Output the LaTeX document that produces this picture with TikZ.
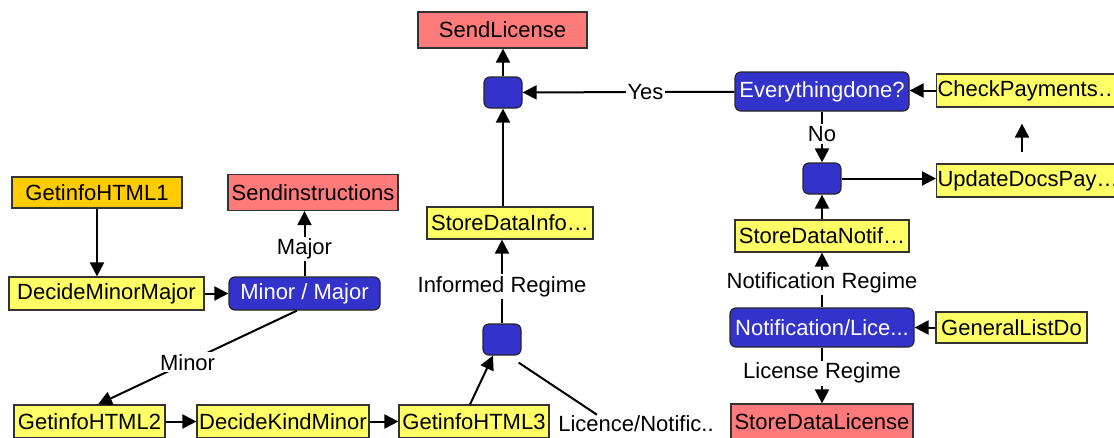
\documentclass[tikz,border=0pt]{standalone}
\usepackage{fontspec}
\setmainfont{Liberation Sans}
\usetikzlibrary{arrows.meta}

\definecolor{taskyellow}{HTML}{FFFF66}
\definecolor{startorange}{HTML}{FFCC00}
\definecolor{endred}{HTML}{FF7B7B}
\definecolor{gateblue}{HTML}{3333CC}
\definecolor{boxline}{HTML}{333333}

\begin{document}
\begin{tikzpicture}[x=1pt,y=-1pt,
  every node/.style={font=\fontsize{22}{26}\selectfont},
  task/.style={draw=boxline, line width=1.2pt, fill=taskyellow, inner sep=1pt, minimum height=33pt},
  start/.style={task, fill=startorange, minimum height=31pt},
  final/.style={task, fill=endred, minimum height=36pt},
  gate/.style={draw=black!85, line width=1.2pt, fill=gateblue, text=white, rounded corners=6pt, inner sep=1pt, minimum height=33pt},
  mergebox/.style={gate, minimum width=38pt, minimum height=31pt},
  lbl/.style={fill=white, inner sep=2pt},
  flow/.style={line width=2pt, -{Triangle[length=14pt,width=14pt]}}]

  \useasboundingbox (0,0) rectangle (1114,437);

  % Left part: minor or major
  \node[start, minimum width=170pt] (html1) at (97,192.5) {GetinfoHTML1};
  \node[final, minimum width=170pt] (sendinstr) at (313,192.5) {Sendinstructions};
  \node[task, minimum width=195pt] (decmm) at (106.5,293.5) {DecideMinorMajor};
  \node[gate, minimum width=151pt] (minmaj) at (304.5,293.5) {Minor / Major};

  % Bottom row
  \node[task, minimum width=151pt] (html2) at (89.5,421.5) {GetinfoHTML2};
  \node[task, minimum width=172pt] (deckind) at (283,421.5) {DecideKindMinor};
  \node[task, minimum width=150pt] (html3) at (474,421.5) {GetinfoHTML3};
  \node[inner sep=1pt] (licnote) at (636,424) {Licence/Notific..};
  \node[final, minimum width=182pt] (storelic) at (822,422) {StoreDataLicense};

  % Middle column
  \node[final, minimum width=169pt] (sendlic) at (502.5,30) {SendLicense};
  \node[mergebox] (merge1) at (503,92.5) {};
  \node[task, minimum width=166pt, minimum height=32pt] (storeinfo) at (510,223) {StoreDataInfo…};
  \node[mergebox] (merge2) at (502,339.5) {};

  % Right column
  \node[gate, minimum width=174pt, minimum height=39pt] (done) at (822,91.5) {Everythingdone?};
  \node[task, anchor=west] (check) at (936,90.5) {CheckPayments…};
  \node[mergebox] (merge3) at (822,178.5) {};
  \node[task, anchor=west] (update) at (936,180.5) {UpdateDocsPay…};
  \node[task, minimum width=174pt, minimum height=32pt] (storenotif) at (822,236) {StoreDataNotif…};
  \node[gate, minimum width=184pt, minimum height=39pt] (notif) at (822,327.5) {Notification/Lice...};
  \node[task, minimum width=151pt, minimum height=31pt] (general) at (1011.5,327.5) {GeneralListDo};

  % Connectors on the left
  \draw[flow] (html1) -- (html1 |- decmm.north);
  \draw[flow] (decmm) -- (minmaj);
  \draw[flow] (minmaj) -- node[lbl, pos=.42] {Major} (minmaj |- sendinstr.south);
  \draw[flow] ([xshift=-7.5pt]minmaj.south) -- node[lbl, pos=.55] {Minor} ([xshift=8.5pt]html2.north);
  \draw[flow] (html2) -- (deckind);
  \draw[flow] (deckind) -- (html3);
  \draw[flow] ([xshift=-4pt]html3.north) -- ([xshift=-9pt]merge2.south);
  \draw[line width=2pt] ([xshift=-3pt,yshift=-7pt]merge2.south east) -- ([xshift=-39pt]licnote.north);

  % Connectors in the middle
  \draw[flow] (merge2) -- node[lbl, pos=.44] {Informed Regime} (merge2 |- storeinfo.south);
  \draw[flow] (storeinfo.north -| merge1) -- (merge1);
  \draw[flow] (merge1) -- (merge1 |- sendlic.south);
  \draw[flow] (done) -- node[lbl, pos=.42] {Yes} (merge1);

  % Connectors on the right
  \draw[flow] (check.west) -- (check.west -| done.east);
  \draw[flow] (done) -- node[lbl, pos=.44] {No} (merge3);
  \draw[flow] (merge3.east) -- (merge3.east -| update.west);
  \draw[flow, shorten <=11pt, shorten >=16pt] ([xshift=86pt]update.north west) -- ([xshift=86pt]check.south west);
  \draw[flow] (storenotif) -- (merge3);
  \draw[flow] (notif) -- node[lbl, pos=.45] {Notification Regime} (storenotif);
  \draw[flow] (general) -- (notif);
  \draw[flow] (notif) -- node[lbl, pos=.46] {License Regime} (storelic);

\end{tikzpicture}
\end{document}
